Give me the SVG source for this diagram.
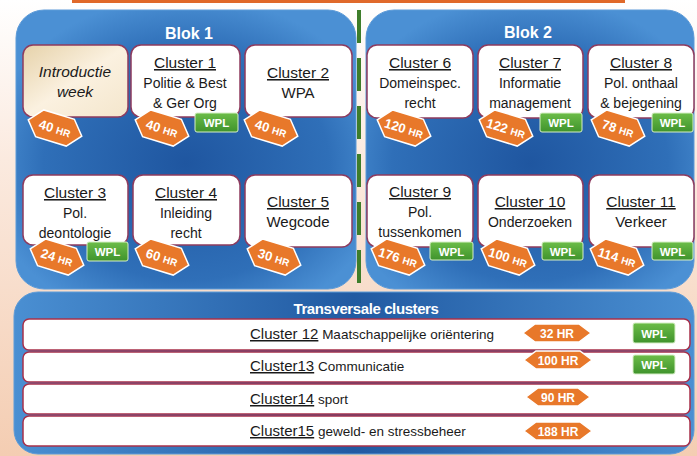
<svg xmlns="http://www.w3.org/2000/svg" width="697" height="456" viewBox="0 0 697 456">
<defs>
<linearGradient id="bg" x1="0" y1="0" x2="0" y2="1">
<stop offset="0" stop-color="#ffffff"/>
<stop offset="0.35" stop-color="#fbeadf"/>
<stop offset="1" stop-color="#f4cdb2"/>
</linearGradient>
<radialGradient id="blue" cx="0.5" cy="0.55" r="0.6">
<stop offset="0" stop-color="#1f56a0"/>
<stop offset="0.7" stop-color="#2f6fb8"/>
<stop offset="1" stop-color="#4b90d4"/>
</radialGradient>
<linearGradient id="blueT" x1="0" y1="0" x2="1" y2="0">
<stop offset="0" stop-color="#4a8fd2"/>
<stop offset="0.5" stop-color="#215aa2"/>
<stop offset="1" stop-color="#4a8fd2"/>
</linearGradient>
<linearGradient id="beige" x1="0" y1="0" x2="1" y2="1">
<stop offset="0" stop-color="#e6d2aa"/>
<stop offset="0.5" stop-color="#fbf1e0"/>
<stop offset="1" stop-color="#f4e6cc"/>
</linearGradient>
<linearGradient id="green" x1="0" y1="0" x2="0" y2="1">
<stop offset="0" stop-color="#6cbd48"/>
<stop offset="1" stop-color="#3f932c"/>
</linearGradient>
<polygon id="hex" points="-28,0 -16,-14 16,-14 28,0 16,14 -16,14"/>
</defs>
<style>
.t{font-family:"Liberation Sans",Arial,sans-serif;fill:#1a1a1a;text-anchor:middle}
.h{font-size:15.5px;text-decoration:underline}
.b{font-size:14px}
.w{font-family:"Liberation Sans",Arial,sans-serif;fill:#fff;font-weight:bold;text-anchor:middle}
.node{fill:#fff;stroke:#8e3b5e;stroke-width:1.5}
.row{fill:#fff;stroke:#a8304a;stroke-width:1.5}
.hr{fill:#e8782a;stroke:#fff;stroke-width:1.5}
.wpl{fill:url(#green);stroke:#d6efc6;stroke-width:1}
.sep{stroke:#3e7d2a;stroke-width:4;stroke-dasharray:33 15;fill:none}
</style>
<rect x="0" y="0" width="697" height="456" fill="url(#bg)"/>
<rect x="72" y="0" width="553" height="3" fill="#e0692a"/>

<g id="blok1">
<rect x="16" y="10" width="340" height="279" rx="28" fill="url(#blue)" stroke="#5d9bd8" stroke-width="1"/>
<text class="w" x="189" y="39" font-size="16">Blok 1</text>
</g>
<g id="blok2">
<rect x="366" y="10" width="328" height="279" rx="28" fill="url(#blue)" stroke="#5d9bd8" stroke-width="1"/>
<text class="w" x="528" y="38" font-size="16">Blok 2</text>
</g>
<g id="separator">
<line class="sep" x1="359" y1="10" x2="359" y2="292"/>
</g>

<g id="intro">
<rect x="23" y="45" width="105" height="72" rx="10" fill="url(#beige)" stroke="#8e3b5e" stroke-width="1.5"/>
<text class="t" x="75" y="77" font-size="15.5" font-style="italic">Introductie</text>
<text class="t" x="75" y="97" font-size="15.5" font-style="italic">week</text>
<g transform="translate(55,128) rotate(17)"><use href="#hex" class="hr"/><text class="w" y="5"><tspan font-size="13">40 </tspan><tspan font-size="10">HR</tspan></text></g>
</g>

<g id="cluster1">
<rect class="node" x="131" y="45" width="109" height="72" rx="10"/>
<text class="t h" x="185" y="68">Cluster 1</text>
<text class="t b" x="185" y="88">Politie &amp; Best</text>
<text class="t b" x="185" y="108">&amp; Ger Org</text>
<g transform="translate(162,128) rotate(17)"><use href="#hex" class="hr"/><text class="w" y="5"><tspan font-size="13">40 </tspan><tspan font-size="10">HR</tspan></text></g>
<rect class="wpl" x="195" y="113" width="43" height="19" rx="2"/><text class="w" x="216.5" y="127" font-size="11.5">WPL</text>
</g>

<g id="cluster2">
<rect class="node" x="245" y="45" width="107" height="72" rx="10"/>
<text class="t h" x="298" y="78">Cluster 2</text>
<text class="t" x="298" y="98" font-size="15">WPA</text>
<g transform="translate(271,128) rotate(17)"><use href="#hex" class="hr"/><text class="w" y="5"><tspan font-size="13">40 </tspan><tspan font-size="10">HR</tspan></text></g>
</g>

<g id="cluster3">
<rect class="node" x="23" y="175" width="105" height="70" rx="10"/>
<text class="t h" x="75" y="198">Cluster 3</text>
<text class="t b" x="75" y="218">Pol.</text>
<text class="t b" x="75" y="238">deontologie</text>
<g transform="translate(57,257) rotate(17)"><use href="#hex" class="hr"/><text class="w" y="5"><tspan font-size="13">24 </tspan><tspan font-size="10">HR</tspan></text></g>
<rect class="wpl" x="87" y="242" width="41" height="19" rx="2"/><text class="w" x="107.5" y="256" font-size="11.5">WPL</text>
</g>

<g id="cluster4">
<rect class="node" x="133" y="175" width="107" height="70" rx="10"/>
<text class="t h" x="186" y="198">Cluster 4</text>
<text class="t b" x="186" y="218">Inleiding</text>
<text class="t b" x="186" y="238">recht</text>
<g transform="translate(162,257) rotate(17)"><use href="#hex" class="hr"/><text class="w" y="5"><tspan font-size="13">60 </tspan><tspan font-size="10">HR</tspan></text></g>
</g>

<g id="cluster5">
<rect class="node" x="245" y="175" width="107" height="72" rx="10"/>
<text class="t h" x="298" y="207">Cluster 5</text>
<text class="t" x="298" y="227" font-size="15">Wegcode</text>
<g transform="translate(274,257) rotate(17)"><use href="#hex" class="hr"/><text class="w" y="5"><tspan font-size="13">30 </tspan><tspan font-size="10">HR</tspan></text></g>
</g>

<g id="cluster6">
<rect class="node" x="367" y="45" width="106" height="73" rx="10"/>
<text class="t h" x="420" y="68">Cluster 6</text>
<text class="t b" x="420" y="88">Domeinspec.</text>
<text class="t b" x="420" y="108">recht</text>
<g transform="translate(404,128) rotate(17)"><use href="#hex" class="hr"/><text class="w" y="5"><tspan font-size="13">120 </tspan><tspan font-size="10">HR</tspan></text></g>
</g>

<g id="cluster7">
<rect class="node" x="478" y="45" width="105" height="73" rx="10"/>
<text class="t h" x="530" y="68">Cluster 7</text>
<text class="t b" x="530" y="88">Informatie</text>
<text class="t b" x="530" y="108">management</text>
<g transform="translate(506,128) rotate(17)"><use href="#hex" class="hr"/><text class="w" y="5"><tspan font-size="13">122 </tspan><tspan font-size="10">HR</tspan></text></g>
<rect class="wpl" x="540" y="113" width="42" height="19" rx="2"/><text class="w" x="561" y="127" font-size="11.5">WPL</text>
</g>

<g id="cluster8">
<rect class="node" x="588" y="45" width="106" height="73" rx="10"/>
<text class="t h" x="641" y="68">Cluster 8</text>
<text class="t b" x="641" y="88">Pol. onthaal</text>
<text class="t b" x="641" y="108">&amp; bejegening</text>
<g transform="translate(618,128) rotate(17)"><use href="#hex" class="hr"/><text class="w" y="5"><tspan font-size="13">78 </tspan><tspan font-size="10">HR</tspan></text></g>
<rect class="wpl" x="652" y="113" width="41" height="19" rx="2"/><text class="w" x="672.5" y="127" font-size="11.5">WPL</text>
</g>

<g id="cluster9">
<rect class="node" x="367" y="175" width="106" height="72" rx="10"/>
<text class="t h" x="420" y="197">Cluster 9</text>
<text class="t b" x="420" y="217">Pol.</text>
<text class="t b" x="420" y="237">tussenkomen</text>
<g transform="translate(398,257) rotate(17)"><use href="#hex" class="hr"/><text class="w" y="5"><tspan font-size="13">176 </tspan><tspan font-size="10">HR</tspan></text></g>
<rect class="wpl" x="430" y="242" width="43" height="18" rx="2"/><text class="w" x="451.5" y="255.5" font-size="11.5">WPL</text>
</g>

<g id="cluster10">
<rect class="node" x="478" y="175" width="105" height="72" rx="10"/>
<text class="t h" x="530" y="207">Cluster 10</text>
<text class="t b" x="530" y="227">Onderzoeken</text>
<g transform="translate(508,257) rotate(17)"><use href="#hex" class="hr"/><text class="w" y="5"><tspan font-size="13">100 </tspan><tspan font-size="10">HR</tspan></text></g>
<rect class="wpl" x="542" y="242" width="41" height="18" rx="2"/><text class="w" x="562.5" y="255.5" font-size="11.5">WPL</text>
</g>

<g id="cluster11">
<rect class="node" x="589" y="175" width="105" height="72" rx="10"/>
<text class="t h" x="641" y="207">Cluster 11</text>
<text class="t" x="641" y="227" font-size="15">Verkeer</text>
<g transform="translate(617,257) rotate(17)"><use href="#hex" class="hr"/><text class="w" y="5"><tspan font-size="13">114 </tspan><tspan font-size="10">HR</tspan></text></g>
<rect class="wpl" x="652" y="242" width="41" height="18" rx="2"/><text class="w" x="672.5" y="255.5" font-size="11.5">WPL</text>
</g>

<g id="transversaal">
<rect x="14" y="292" width="680" height="162" rx="24" fill="url(#blueT)" stroke="#5d9bd8" stroke-width="1"/>
<text class="w" x="366" y="314" font-size="15" letter-spacing="-0.4">Transversale clusters</text>
</g>

<g id="cluster12">
<rect class="row" x="23" y="319" width="667" height="31" rx="6"/>
<text class="t" x="250" y="339" style="text-anchor:start"><tspan font-size="15" text-decoration="underline">Cluster 12</tspan><tspan font-size="13.5"> Maatschappelijke  oriëntering</tspan></text>
<polygon class="hr" points="523,333 535,324 579,324 591,333 579,342 535,342"/>
<text class="w" x="557" y="337.5" font-size="12">32 HR</text>
<rect class="wpl" x="633" y="323" width="42" height="20" rx="2"/><text class="w" x="654" y="337.5" font-size="11.5">WPL</text>
</g>

<g id="cluster13">
<rect class="row" x="23" y="352" width="667" height="30" rx="6"/>
<text class="t" x="250" y="371" style="text-anchor:start"><tspan font-size="15" text-decoration="underline">Cluster13</tspan><tspan font-size="13.5"> Communicatie</tspan></text>
<polygon class="hr" points="524,360 536,351 580,351 592,360 580,369 536,369"/>
<text class="w" x="558" y="364.5" font-size="12">100 HR</text>
<rect class="wpl" x="633" y="355" width="42" height="19" rx="2"/><text class="w" x="654" y="369" font-size="11.5">WPL</text>
</g>

<g id="cluster14">
<rect class="row" x="23" y="384" width="667" height="30" rx="6"/>
<text class="t" x="250" y="404" style="text-anchor:start"><tspan font-size="15" text-decoration="underline">Cluster14</tspan><tspan font-size="13.5"> sport</tspan></text>
<polygon class="hr" points="526,397 538,388 578,388 590,397 578,406 538,406"/>
<text class="w" x="558" y="401.5" font-size="12">90 HR</text>
</g>

<g id="cluster15">
<rect class="row" x="23" y="416" width="667" height="30" rx="6"/>
<text class="t" x="250" y="436" style="text-anchor:start"><tspan font-size="15" text-decoration="underline">Cluster15</tspan><tspan font-size="13.5"> geweld- en stressbeheer</tspan></text>
<polygon class="hr" points="524,431 536,422 580,422 592,431 580,440 536,440"/>
<text class="w" x="558" y="435.5" font-size="12">188 HR</text>
</g>
</svg>
